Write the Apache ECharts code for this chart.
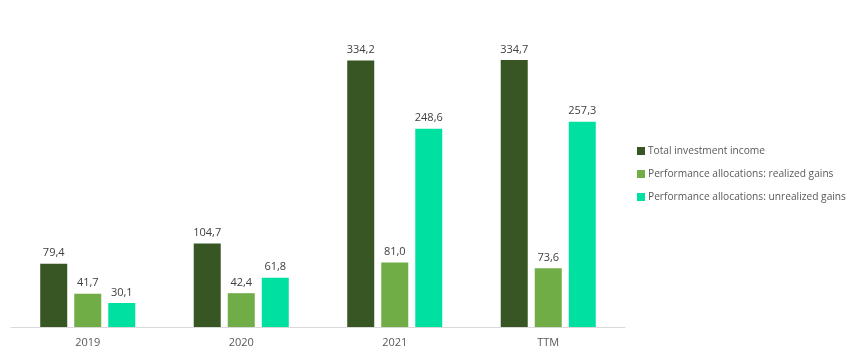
<!DOCTYPE html>
<html>
<head>
<meta charset="utf-8">
<script src="https://cdn.jsdelivr.net/npm/echarts@6/dist/echarts.min.js"></script>
<style>
  html, body { margin: 0; padding: 0; background: #fff; }
  #chart { width: 850px; height: 353px; }
</style>
</head>
<body>
<div id="chart"></div>
<script>
const categories = ['2019', '2020', '2021', 'TTM'];
const totalIncome = [79.4, 104.7, 334.2, 334.7];
const realizedGains = [41.7, 42.4, 81.0, 73.6];
const unrealizedGains = [30.1, 61.8, 248.6, 257.3];
const seriesNames = [
  'Total investment income',
  'Performance allocations: realized gains',
  'Performance allocations: unrealized gains',
];
const colors = ['#375623', '#70ad47', '#00e0a0'];

const fmt = p => p.value.toFixed(1).replace('.', ',');

const chart = echarts.init(document.getElementById('chart'));
const makeSeries = (name, data) => ({
  name,
  type: 'bar',
  data,
  barWidth: 27,
  barGap: '26%',
  label: {
    show: true,
    position: 'top',
    distance: 5,
    color: '#404040',
    fontSize: 11,
    fontFamily: 'Open Sans',
    formatter: fmt,
  },
});

chart.setOption({
  animation: false,
  color: colors,
  textStyle: { fontFamily: 'Open Sans' },
  grid: { left: 11, width: 614, top: 8, bottom: 26 },
  legend: {
    orient: 'vertical',
    left: 632,
    top: 141,
    itemWidth: 8,
    itemHeight: 8,
    itemGap: 13,
    icon: 'rect',
    textStyle: { color: '#595959', fontSize: 10.2, padding: [0, 0, 0, -2] },
    data: seriesNames,
  },
  xAxis: {
    type: 'category',
    data: categories,
    axisLine: { lineStyle: { color: '#d9d9d9' } },
    axisTick: { show: false },
    axisLabel: { color: '#595959', fontSize: 11, margin: 10 },
  },
  yAxis: {
    type: 'value',
    min: 0,
    max: 400,
    show: false,
    splitLine: { show: false },
  },
  series: [
    makeSeries(seriesNames[0], totalIncome),
    makeSeries(seriesNames[1], realizedGains),
    makeSeries(seriesNames[2], unrealizedGains),
  ],
});
</script>
</body>
</html>
